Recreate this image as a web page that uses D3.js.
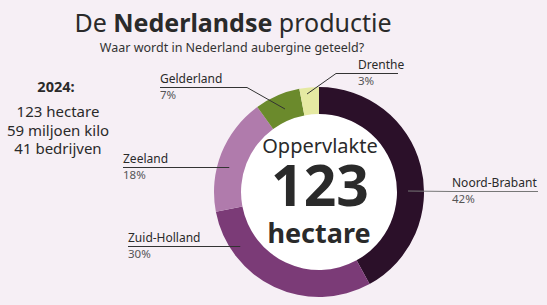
<!DOCTYPE html>
<html>
<head>
<meta charset="utf-8">
<script src="https://cdn.jsdelivr.net/npm/d3@7"></script>
<style>
  body { margin: 0; background: #f6eff5; }
  svg { display: block; font-family: "Noto Sans", "Open Sans", sans-serif; }
</style>
</head>
<body>
<script>
// provinces and their share of the area (%)
var provinces = ["Noord-Brabant", "Zuid-Holland", "Zeeland", "Gelderland", "Drenthe"];
var shares = [42, 30, 18, 7, 3];
var colors = ["#2b1029", "#7b3b77", "#b07bac", "#6b8a2c", "#e5e9a2"];

var year = "2024:";
var facts = ["123 hectare", "59 miljoen kilo", "41 bedrijven"];
var totalArea = "123";

var width = 547, height = 305;
var cx = 319, cy = 192;
var outerR = 105, innerR = 78;

var svg = d3.select("body").append("svg")
    .attr("width", width)
    .attr("height", height);

svg.append("rect").attr("width", width).attr("height", height).attr("fill", "#f6eff5");

// title
svg.append("text")
    .attr("x", 233).attr("y", 32)
    .attr("text-anchor", "middle")
    .attr("font-size", 25)
    .attr("fill", "#2a2a2a")
    .call(function (t) {
        t.append("tspan").text("De ");
        t.append("tspan").attr("font-weight", "bold").text("Nederlandse");
        t.append("tspan").text(" productie");
    });

svg.append("text")
    .attr("x", 232).attr("y", 52)
    .attr("text-anchor", "middle")
    .attr("font-size", 12.5)
    .attr("fill", "#333")
    .text("Waar wordt in Nederland aubergine geteeld?");

// left fact block
svg.append("text")
    .attr("x", 56).attr("y", 92)
    .attr("text-anchor", "middle")
    .attr("font-size", 14.5)
    .attr("font-weight", "bold")
    .attr("fill", "#2a2a2a")
    .text(year);

svg.selectAll(".fact")
    .data(facts)
    .enter().append("text")
    .attr("class", "fact")
    .attr("x", 58)
    .attr("y", function (d, i) { return 117 + i * 18.5; })
    .attr("text-anchor", "middle")
    .attr("font-size", 15)
    .attr("fill", "#2a2a2a")
    .text(function (d) { return d; });

// donut
var pie = d3.pie().sort(null).value(function (d) { return d; });
var arcs = pie(shares);
var arc = d3.arc().innerRadius(innerR).outerRadius(outerR);

var g = svg.append("g").attr("transform", "translate(" + cx + "," + cy + ")");

g.append("circle").attr("r", innerR).attr("fill", "#ffffff");

g.selectAll(".slice")
    .data(arcs)
    .enter().append("path")
    .attr("class", "slice")
    .attr("d", arc)
    .attr("fill", function (d, i) { return colors[i]; });

// label layout: text position, leader line (elbow at text, end in ring)
var labelPos = [
    { x: 452, y: 187, lx1: 538, lx0: 452, end: [408, 191] },
    { x: 128, y: 242, lx1: 128, lx0: 240, end: [240, 247] },
    { x: 123, y: 163, lx1: 123, lx0: 229, end: [229, 167] },
    { x: 160, y: 83,  lx1: 160, lx0: 247, end: [285, 109] },
    { x: 358, y: 69,  lx1: 398, lx0: 336, end: [307, 94] }
];

var labels = svg.selectAll(".lab")
    .data(arcs)
    .enter().append("g")
    .attr("class", "lab");

labels.append("polyline")
    .attr("points", function (d, i) {
        var p = labelPos[i];
        var ly = p.y + 4.5;
        return [[p.lx1, ly], [p.lx0, ly], p.end].map(function (q) { return q.join(","); }).join(" ");
    })
    .attr("fill", "none")
    .attr("stroke", function (d, i) { return i === 0 ? "#777" : "#333"; })
    .attr("stroke-width", 1);

labels.append("text")
    .attr("x", function (d, i) { return labelPos[i].x; })
    .attr("y", function (d, i) { return labelPos[i].y; })
    .attr("font-size", 12)
    .attr("fill", "#2a2a2a")
    .text(function (d, i) { return provinces[i]; });

labels.append("text")
    .attr("x", function (d, i) { return labelPos[i].x; })
    .attr("y", function (d, i) { return labelPos[i].y + 15.5; })
    .attr("font-size", 11.5)
    .attr("fill", "#555")
    .text(function (d) { return d.data + "%"; });

// centre text
svg.append("text")
    .attr("x", 320).attr("y", 153)
    .attr("text-anchor", "middle")
    .attr("font-size", 20)
    .attr("fill", "#2a2a2a")
    .text("Oppervlakte");

svg.append("text")
    .attr("x", 320).attr("y", 206)
    .attr("text-anchor", "middle")
    .attr("font-size", 57)
    .attr("font-weight", "bold")
    .attr("fill", "#2a2a2a")
    .text(totalArea);

svg.append("text")
    .attr("x", 319).attr("y", 243)
    .attr("text-anchor", "middle")
    .attr("font-size", 27)
    .attr("font-weight", "bold")
    .attr("fill", "#2a2a2a")
    .text("hectare");
</script>
</body>
</html>
